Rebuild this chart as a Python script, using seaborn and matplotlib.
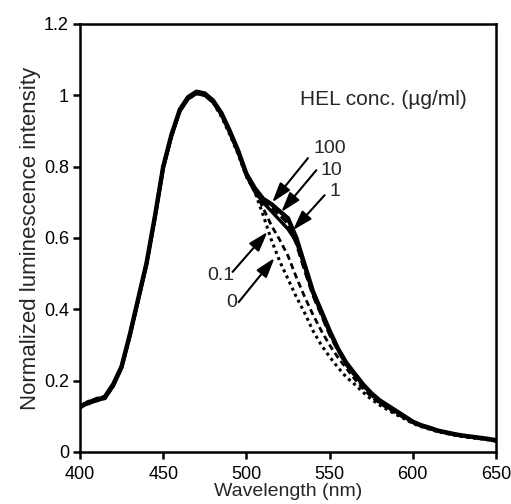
import numpy as np
import pandas as pd
import matplotlib
matplotlib.use("Agg")
import matplotlib.pyplot as plt
import seaborn as sns

# ---- data ----
wavelength = [400, 405, 410, 415, 420, 425, 430, 435, 440, 445, 450, 455, 460, 465,
              470, 475, 480, 485, 490, 495, 500, 505, 510, 515, 520, 525, 530, 535,
              540, 545, 550, 555, 560, 565, 570, 575, 580, 585, 590, 595, 600, 605,
              610, 615, 620, 625, 630, 635, 640, 645, 650]

conc_100 = [0.125, 0.14, 0.145, 0.155, 0.19, 0.24, 0.33, 0.43, 0.53, 0.66, 0.80, 0.89,
            0.96, 0.995, 1.01, 1.005, 0.985, 0.95, 0.90, 0.845, 0.78, 0.74, 0.71, 0.695,
            0.675, 0.655, 0.60, 0.525, 0.45, 0.395, 0.34, 0.29, 0.25, 0.22, 0.19, 0.165,
            0.145, 0.13, 0.115, 0.10, 0.085, 0.075, 0.068, 0.06, 0.055, 0.05, 0.046,
            0.043, 0.04, 0.037, 0.033]
conc_10 = [0.13, 0.14, 0.15, 0.155, 0.185, 0.24, 0.33, 0.43, 0.53, 0.66, 0.80, 0.89,
           0.96, 0.995, 1.01, 1.005, 0.985, 0.95, 0.90, 0.845, 0.78, 0.735, 0.705, 0.685,
           0.665, 0.64, 0.585, 0.51, 0.44, 0.385, 0.33, 0.285, 0.245, 0.215, 0.185, 0.16,
           0.14, 0.125, 0.11, 0.097, 0.083, 0.073, 0.066, 0.059, 0.054, 0.049, 0.045,
           0.042, 0.039, 0.036, 0.032]
conc_1 = [0.13, 0.135, 0.145, 0.15, 0.185, 0.235, 0.325, 0.425, 0.525, 0.655, 0.795, 0.885,
          0.955, 0.99, 1.005, 1.0, 0.98, 0.945, 0.895, 0.84, 0.775, 0.73, 0.70, 0.675,
          0.65, 0.625, 0.59, 0.52, 0.445, 0.39, 0.335, 0.29, 0.25, 0.218, 0.188, 0.163,
          0.143, 0.128, 0.113, 0.098, 0.084, 0.074, 0.067, 0.06, 0.055, 0.05, 0.046,
          0.043, 0.04, 0.036, 0.032]
conc_01 = [0.13, 0.14, 0.145, 0.155, 0.185, 0.24, 0.33, 0.43, 0.53, 0.66, 0.80, 0.89,
           0.96, 0.995, 1.01, 1.005, 0.985, 0.945, 0.895, 0.84, 0.778, 0.732, 0.685, 0.635,
           0.595, 0.55, 0.49, 0.435, 0.385, 0.34, 0.30, 0.265, 0.235, 0.205, 0.178, 0.155,
           0.137, 0.122, 0.108, 0.095, 0.082, 0.072, 0.065, 0.058, 0.053, 0.048, 0.044,
           0.041, 0.038, 0.035, 0.031]
conc_0 = [0.125, 0.14, 0.145, 0.15, 0.185, 0.235, 0.325, 0.425, 0.525, 0.655, 0.795, 0.885,
          0.955, 0.99, 1.005, 1.0, 0.98, 0.94, 0.89, 0.835, 0.772, 0.73, 0.665, 0.595,
          0.535, 0.485, 0.435, 0.39, 0.34, 0.30, 0.267, 0.237, 0.21, 0.19, 0.168, 0.148,
          0.132, 0.118, 0.105, 0.093, 0.08, 0.071, 0.064, 0.057, 0.052, 0.047, 0.043,
          0.04, 0.037, 0.034, 0.03]

series_labels = ["100", "10", "1", "0.1", "0"]
series_values = [conc_100, conc_10, conc_1, conc_01, conc_0]

# annotation layout: label, text position, arrow tail, arrow head (data coords)
annotations = [
    ("100", (550.0, 0.852), (537.0, 0.824), (515.5, 0.700)),
    ("10",  (551.0, 0.790), (542.0, 0.790), (521.0, 0.673)),
    ("1",   (553.0, 0.729), (547.0, 0.720), (528.0, 0.622)),
    ("0.1", (484.5, 0.496), (491.7, 0.505), (512.7, 0.617)),
    ("0",   (491.0, 0.418), (495.3, 0.420), (516.9, 0.544)),
]

# ---- plot ----
sns.set_theme(style="ticks")
plt.rcParams["font.family"] = ["Liberation Sans", "DejaVu Sans"]

fig = plt.figure(figsize=(5.11, 5.04), dpi=100)
ax = fig.add_axes([80 / 511, 52 / 504, 416 / 511, 428 / 504])

styles = {
    "100": dict(linestyle="-", linewidth=3.2),
    "10": dict(linestyle=(0, (2.5, 1.2)), linewidth=2.4),
    "1": dict(linestyle="-", linewidth=2.4),
    "0.1": dict(linestyle=(0, (2.2, 1.4)), linewidth=2.0),
    "0": dict(linestyle=(0, (1, 1.2)), linewidth=2.2),
}

df = pd.concat([
    pd.DataFrame({"wavelength": wavelength, "intensity": vals, "conc": lab})
    for lab, vals in zip(series_labels, series_values)
])

for lab in series_labels[::-1]:
    sub = df[df["conc"] == lab]
    sns.lineplot(data=sub, x="wavelength", y="intensity", ax=ax, color="black",
                 estimator=None, sort=False, **styles[lab])

for lab, txt_pos, tail, head in annotations:
    ax.annotate("", xy=head, xytext=tail,
                arrowprops=dict(arrowstyle="-|>,head_length=1.0,head_width=0.32",
                                color="black", lw=1.5, shrinkA=0, shrinkB=0))
    ax.text(txt_pos[0], txt_pos[1], lab, fontsize=14, ha="center", va="center")

ax.text(532, 0.987, "HEL conc. (\u00b5g/ml)", fontsize=15, ha="left", va="center")

ax.set_xlim(400, 650)
ax.set_ylim(0, 1.2)
ax.set_xticks([400, 450, 500, 550, 600, 650])
ax.set_yticks([0, 0.2, 0.4, 0.6, 0.8, 1.0, 1.2])
ax.set_yticklabels(["0", "0.2", "0.4", "0.6", "0.8", "1", "1.2"])
ax.tick_params(axis="both", direction="out", length=5, width=1.8, labelsize=13,
               colors="black")
ax.tick_params(axis="x", pad=5)
ax.tick_params(axis="y", pad=3)
for s in ax.spines.values():
    s.set_linewidth(1.8)
    s.set_color("black")
    s.set_visible(True)

ax.set_xlabel("Wavelength (nm)", fontsize=14, labelpad=0)
ax.set_ylabel("Normalized luminescence intensity", fontsize=16, labelpad=2)

fig.savefig("out.png", dpi=100, facecolor="white")
